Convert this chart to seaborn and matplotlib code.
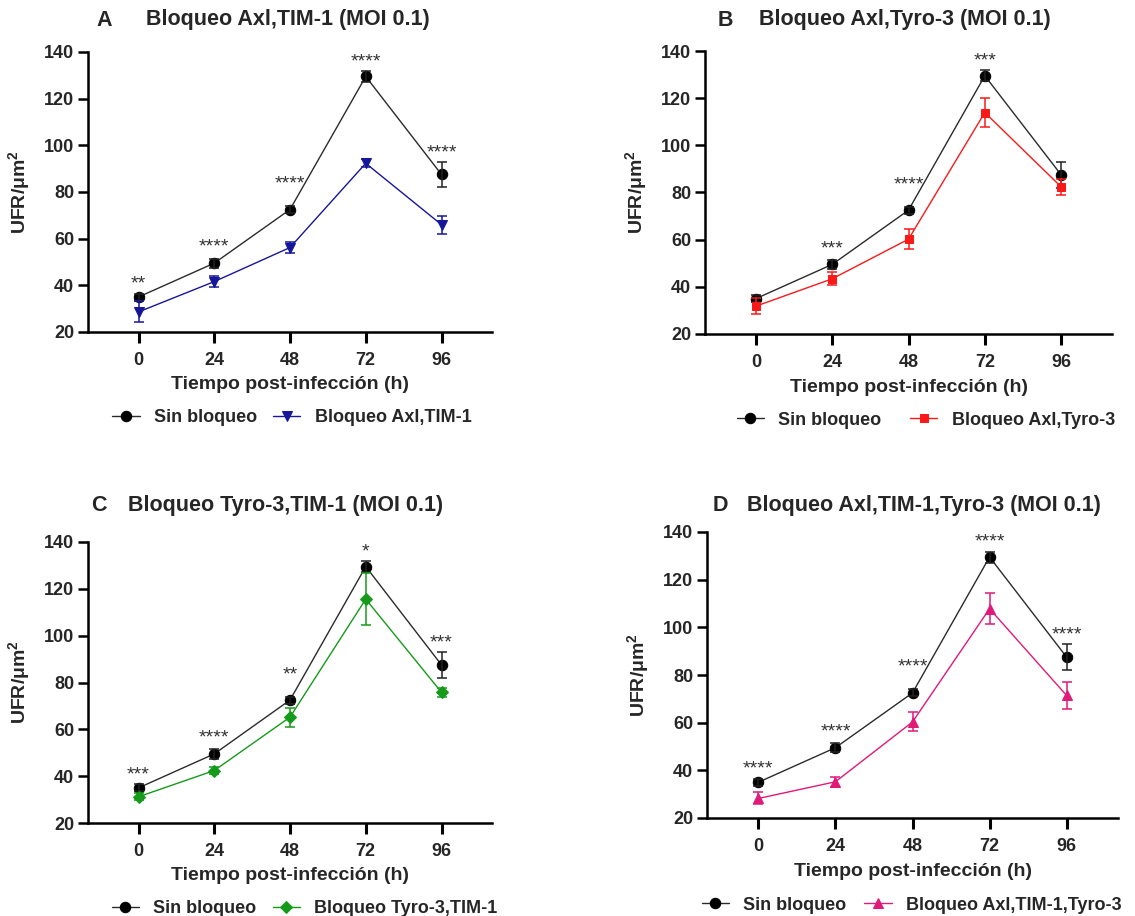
import numpy as np
import pandas as pd
import matplotlib
matplotlib.use("Agg")
import matplotlib.pyplot as plt
import seaborn as sns

# data (mean +/- error per time point)
tiempos = [0, 24, 48, 72, 96]

sin_bloqueo = [35.0, 49.5, 72.5, 129.5, 87.5]
sin_bloqueo_err = [1.5, 2.0, 1.5, 2.3, 5.4]

axl_tim1 = [28.6, 41.6, 56.2, 92.3, 66.0]
axl_tim1_err = [4.5, 2.5, 2.5, 1.8, 3.8]

axl_tyro3 = [31.8, 43.4, 60.2, 113.9, 82.4]
axl_tyro3_err = [3.5, 2.8, 4.2, 6.0, 3.5]

tyro3_tim1 = [31.2, 42.4, 65.2, 115.6, 75.8]
tyro3_tim1_err = [1.5, 1.5, 4.0, 11.0, 2.0]

axl_tim1_tyro3 = [28.2, 35.2, 60.3, 107.8, 71.4]
axl_tim1_tyro3_err = [2.5, 2.2, 4.0, 6.5, 5.5]

sig_a = ["**", "****", "****", "****", "****"]
sig_b = ["", "***", "****", "***", ""]
sig_c = ["***", "****", "**", "*", "***"]
sig_d = ["****", "****", "****", "****", "****"]

titulos = ["Bloqueo Axl,TIM-1 (MOI 0.1)", "Bloqueo Axl,Tyro-3 (MOI 0.1)",
           "Bloqueo Tyro-3,TIM-1 (MOI 0.1)", "Bloqueo Axl,TIM-1,Tyro-3 (MOI 0.1)"]
letras = ["A", "B", "C", "D"]
etiquetas = ["Bloqueo Axl,TIM-1", "Bloqueo Axl,Tyro-3",
             "Bloqueo Tyro-3,TIM-1", "Bloqueo Axl,TIM-1,Tyro-3"]

sns.set_style("ticks")
plt.rcParams["font.family"] = ["Liberation Sans", "DejaVu Sans"]
plt.rcParams["mathtext.fontset"] = "custom"
plt.rcParams["mathtext.rm"] = "Liberation Sans"
plt.rcParams["mathtext.bf"] = "Liberation Sans:bold"

W, H = 1135, 916
fig = plt.figure(figsize=(W / 100, H / 100), dpi=100)

# panel boxes in pixels: left, right, top, bottom
cajas = [(88, 492, 52, 332), (705, 1112, 51, 334),
         (88, 492, 542, 823), (707, 1118, 532, 818)]
# title letter x, title text x, title y (pixels)
pos_titulo = [(104, 146, 20), (725, 759, 20), (99, 128, 505), (720, 747, 505)]
# legend centre x (axes fraction) and column spacing per panel
pos_leyenda = [(0.505, 0.9), (0.543, 1.6), (0.536, 0.9), (0.498, 1.0)]

series = [(axl_tim1, axl_tim1_err, "#16169a", "v", 7),
          (axl_tyro3, axl_tyro3_err, "#fa1919", "s", 6),
          (tyro3_tim1, tyro3_tim1_err, "#169a1a", "D", 6),
          (axl_tim1_tyro3, axl_tim1_tyro3_err, "#df1a78", "^", 7)]
sigs = [sig_a, sig_b, sig_c, sig_d]

for i in range(4):
    l, r, t, b = cajas[i]
    ax = fig.add_axes([l / W, 1 - b / H, (r - l) / W, (b - t) / H])
    vals, errs, col, mk, ms = series[i]

    df = pd.DataFrame({"t": tiempos, "sin": sin_bloqueo, "blq": vals})

    sns.lineplot(data=df, x="t", y="sin", ax=ax, color="#2b2b2b", lw=1.0,
                 marker="o", markersize=7.5, markerfacecolor="black",
                 markeredgecolor="black")
    ax.errorbar(tiempos, sin_bloqueo, yerr=sin_bloqueo_err, fmt="none",
                ecolor="#222222", elinewidth=1.1, capsize=3.8, capthick=1.1)
    h1 = ax.lines[0]

    sns.lineplot(data=df, x="t", y="blq", ax=ax, color=col, lw=1.0,
                 marker=mk, markersize=ms, markerfacecolor=col,
                 markeredgecolor=col)
    h2 = [ln for ln in ax.lines if ln.get_marker() == mk][0]
    ax.errorbar(tiempos, vals, yerr=errs, fmt="none", ecolor=col,
                elinewidth=1.1, capsize=3.8, capthick=1.1)

    # asterisks above the highest thing near each time point
    xs_fino = np.linspace(-16, 112, 1000)
    y_sup = np.maximum(np.interp(xs_fino, tiempos, sin_bloqueo),
                       np.interp(xs_fino, tiempos, vals))
    for k, tt in enumerate(tiempos):
        if not sigs[i][k]:
            continue
        cerca = (xs_fino >= tt - 3) & (xs_fino <= tt + 3)
        top = max(y_sup[cerca].max(), sin_bloqueo[k] + sin_bloqueo_err[k],
                  vals[k] + errs[k])
        ax.text(tt, top + 2, sigs[i][k], ha="center", va="baseline",
                fontsize=14, color="#333333", fontweight="normal")

    ax.set_xlim(-16, 112)
    ax.set_ylim(20, 140)
    ax.set_xticks(tiempos)
    ax.set_yticks(range(20, 141, 20))
    for s in ["top", "right"]:
        ax.spines[s].set_visible(False)
    for s in ["left", "bottom"]:
        ax.spines[s].set_linewidth(1.8)
        ax.spines[s].set_color("black")
    ax.tick_params(axis="x", length=8, width=2.2, pad=6.5, labelsize=13,
                   color="black")
    ax.tick_params(axis="y", length=7, width=1.8, pad=3, labelsize=13,
                   color="black")
    for lab in ax.get_xticklabels() + ax.get_yticklabels():
        lab.set_fontweight("bold")

    ax.set_xlabel("Tiempo post-infección (h)", fontsize=14, fontweight="bold",
                  va="center")
    ax.xaxis.set_label_coords(0.5, -0.188)
    ax.set_ylabel("UFR/μm$^{\\mathbf{2}}$", fontsize=14, fontweight="bold",
                  va="center")
    ax.yaxis.set_label_coords(-68 / (r - l), 0.5)

    lgx, csp = pos_leyenda[i]
    ax.legend([h1, h2], ["Sin bloqueo", etiquetas[i]], loc="center",
              bbox_to_anchor=(lgx, -0.305), ncol=2, frameon=False,
              handlelength=1.5, handletextpad=0.8, columnspacing=csp,
              prop={"size": 13, "weight": "bold"})

    lx, tx, ty = pos_titulo[i]
    fig.text(lx / W, 1 - ty / H, letras[i], ha="center", va="center",
             fontsize=15.5, fontweight="bold")
    fig.text(tx / W, 1 - ty / H, titulos[i], ha="left", va="center",
             fontsize=15.5, fontweight="bold")

fig.savefig("out.png", dpi=100)
